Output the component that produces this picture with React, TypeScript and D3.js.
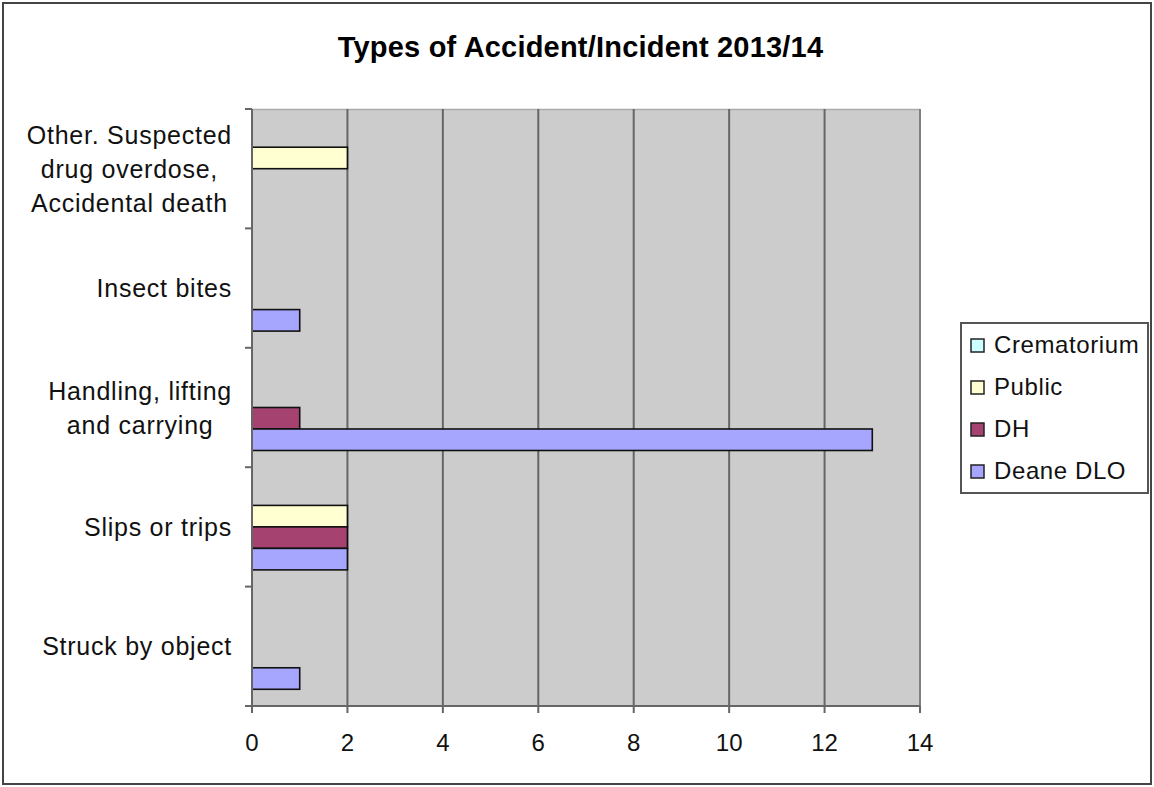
import React from "react";
import * as d3 from "d3";

const title = "Types of Accident/Incident 2013/14";
const categories = [
  "Other. Suspected\ndrug overdose,\nAccidental death",
  "Insect bites",
  "Handling, lifting\nand carrying",
  "Slips or trips",
  "Struck by object",
];
const seriesNames = ["Crematorium", "Public", "DH", "Deane DLO"];
const crematorium = [0, 0, 0, 0, 0];
const publicVals = [2, 0, 0, 2, 0];
const dh = [0, 0, 1, 2, 0];
const deane = [0, 1, 13, 2, 1];
const seriesColors = ["#CCFFFF", "#FFFFD2", "#A6426F", "#A6A6FF"];
const xTicks = [0, 2, 4, 6, 8, 10, 12, 14];

const FONT = "'Liberation Sans', Arial, sans-serif";

function measure(text: string, font: string): number {
  if (typeof document === "undefined") return text.length * 12;
  const c = document.createElement("canvas");
  const ctx = c.getContext("2d");
  if (!ctx) return text.length * 12;
  ctx.font = font;
  return ctx.measureText(text).width;
}

export default function App() {
  const W = 1154;
  const H = 787;
  const left = 252;
  const right = 920;
  const top = 109;
  const bottom = 706;
  const values = [crematorium, publicVals, dh, deane];

  const x = d3.scaleLinear().domain([0, 14]).range([left, right]);
  const y = d3
    .scaleBand<string>()
    .domain(categories)
    .range([top, bottom])
    .paddingInner(0.28)
    .paddingOuter(0.14);
  const sub = d3
    .scaleBand<string>()
    .domain(seriesNames)
    .range([0, y.bandwidth()]);
  const step = y.step();

  const labelFontSize = 25;
  const labelFont = `${labelFontSize}px ${FONT}`;
  const labelLS = 0.75;

  return (
    <svg
      width={W}
      height={H}
      style={{ position: "absolute", left: 0, top: 0, background: "#fff" }}
      fontFamily={FONT}
    >
      <rect x={3} y={3} width={1148} height={781} fill="#fff" stroke="#444" strokeWidth={2} />
      <text
        x={580.5}
        y={57}
        textAnchor="middle"
        fontSize={29}
        fontWeight="bold"
        letterSpacing={0.2}
        fill="#000"
      >
        {title}
      </text>

      {/* plot area */}
      <rect x={left} y={top} width={right - left} height={bottom - top} fill="#CCCCCC" />
      <line x1={left} x2={right} y1={top + 0.5} y2={top + 0.5} stroke="#aaa" strokeWidth={1.5} />
      {xTicks.slice(1).map((t) => (
        <line
          key={"g" + t}
          x1={x(t)}
          x2={x(t)}
          y1={top}
          y2={bottom}
          stroke={t === 14 ? "#808080" : "#666"}
          strokeWidth={2}
        />
      ))}

      {/* bars */}
      {categories.map((cat, ci) =>
        seriesNames.map((s, si) => {
          const v = values[si][ci];
          if (!v) return null;
          const y0 = (y(cat) as number) + (sub(s) as number);
          return (
            <rect
              key={cat + s}
              x={x(0)}
              y={y0}
              width={x(v) - x(0)}
              height={sub.bandwidth()}
              fill={seriesColors[si]}
              stroke="#111"
              strokeWidth={1.6}
            />
          );
        })
      )}

      {/* axes */}
      <line x1={left} x2={left} y1={top} y2={bottom + 1} stroke="#666" strokeWidth={2} />
      <line x1={left - 7} x2={right} y1={bottom} y2={bottom} stroke="#666" strokeWidth={2} />
      {categories.map((cat, i) => (
        <line
          key={"yt" + i}
          x1={left - 7}
          x2={left}
          y1={top + i * step}
          y2={top + i * step}
          stroke="#666"
          strokeWidth={2}
        />
      ))}
      {xTicks.map((t) => (
        <line key={"xt" + t} x1={x(t)} x2={x(t)} y1={bottom} y2={bottom + 7} stroke="#666" strokeWidth={2} />
      ))}
      {xTicks.map((t) => (
        <text key={"xl" + t} x={x(t)} y={751} textAnchor="middle" fontSize={24} fill="#111">
          {t}
        </text>
      ))}

      {/* category labels */}
      {categories.map((cat) => {
        const lines = cat.split("\n");
        const maxW = Math.max(...lines.map((l) => measure(l, labelFont) + l.length * labelLS));
        const cx = 232 - maxW / 2;
        const cy = (y(cat) as number) + y.bandwidth() / 2;
        const lh = 34;
        const firstBase = cy - ((lines.length - 1) * lh) / 2 + 9;
        return (
          <text
            key={"cl" + cat}
            fontSize={labelFontSize}
            letterSpacing={labelLS}
            textAnchor="middle"
            fill="#111"
          >
            {lines.map((l, li) => (
              <tspan key={li} x={cx} y={firstBase + li * lh}>
                {l}
              </tspan>
            ))}
          </text>
        );
      })}

      {/* legend */}
      <rect x={961} y={323} width={187} height={170} fill="#fff" stroke="#555" strokeWidth={2} />
      {seriesNames.map((s, i) => {
        const cy = 345 + i * 42;
        return (
          <g key={"lg" + s}>
            <rect x={971} y={cy - 6} width={13} height={13} fill={seriesColors[i]} stroke="#222" strokeWidth={1.5} />
            <text x={994} y={cy + 8} fontSize={24} letterSpacing={0.6} fill="#111">
              {s}
            </text>
          </g>
        );
      })}
    </svg>
  );
}
